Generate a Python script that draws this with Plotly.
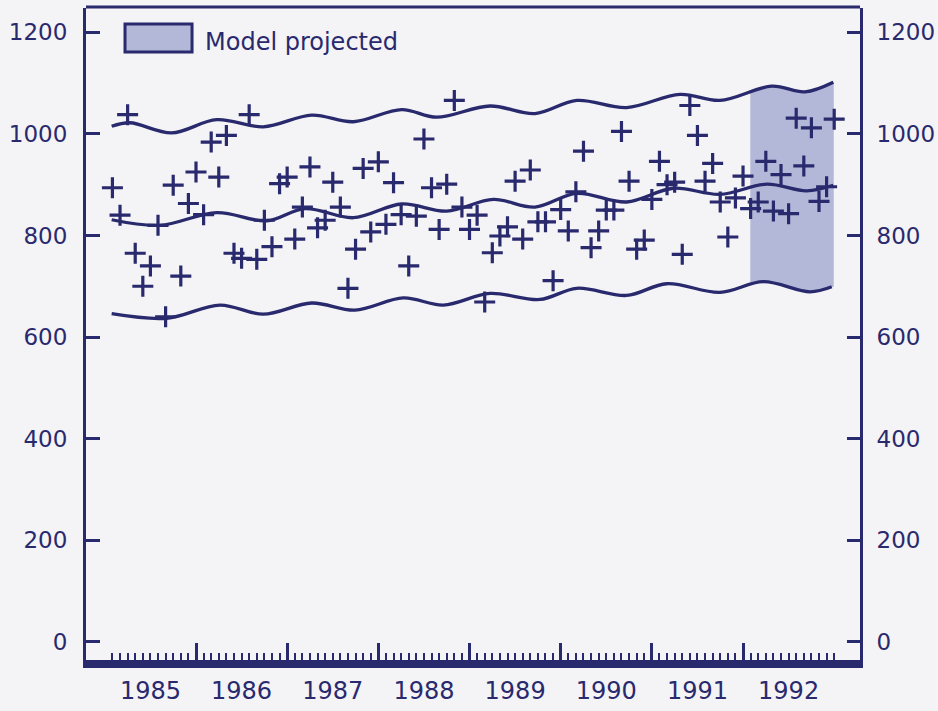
import plotly.graph_objects as go

NAVY = "#29296d"
BG = "#f4f3f6"
SHADE = "rgb(180,184,216)"
FONT = "DejaVu Sans, Verdana, sans-serif"

# ---- data ----
# monthly observations, Jan 1985 .. Dec 1992, plotted at month end
years = list(range(1985, 1993))
months = [f"{y}-{m:02d}" for y in years for m in range(1, 13)]
t_obs = [int(s[:4]) + int(s[5:]) / 12 for s in months]
observed = [
    894, 840, 1038, 765, 700, 740, 820, 640, 899, 720, 863, 925,
    841, 984, 915, 997, 765, 755, 1038, 753, 830, 778, 902, 915,
    793, 856, 935, 815, 830, 905, 856, 696, 773, 932, 807, 945,
    822, 904, 841, 740, 838, 990, 894, 812, 901, 1066, 856, 812,
    840, 669, 766, 799, 817, 907, 793, 929, 827, 827, 711, 851,
    809, 886, 966, 776, 809, 850, 850, 1005, 907, 773, 791, 871,
    946, 900, 905, 763, 1056, 997, 907, 942, 866, 797, 874, 917,
    853, 866, 946, 848, 920, 843, 1031, 937, 1012, 867, 896, 1029,
]

# model curves (knots read at peaks / troughs)
upper_t = [1985.075, 1985.276, 1985.733, 1986.227, 1986.738, 1987.269, 1987.725,
           1988.256, 1988.640, 1989.225, 1989.718, 1990.176, 1990.724, 1991.309,
           1991.747, 1992.315, 1992.680, 1992.990]
upper_v = [1015, 1022, 1002, 1028, 1014, 1037, 1024, 1048, 1033, 1055, 1040,
           1066, 1052, 1078, 1066, 1094, 1083, 1102]

middle_t = [1985.075, 1985.605, 1986.227, 1986.775, 1987.196, 1987.725, 1988.256,
            1988.750, 1989.261, 1989.718, 1990.176, 1990.724, 1991.235, 1991.747,
            1992.260, 1992.698, 1992.990]
middle_v = [831, 820, 845, 829, 853, 835, 862, 848, 871, 856, 883, 866, 893, 881,
            901, 888, 899]

lower_t = [1985.075, 1985.679, 1986.263, 1986.738, 1987.269, 1987.744, 1988.274,
           1988.713, 1989.225, 1989.773, 1990.176, 1990.724, 1991.163, 1991.747,
           1992.223, 1992.735, 1992.973]
lower_v = [646, 637, 663, 645, 667, 653, 677, 663, 686, 674, 696, 682, 705, 688,
           709, 689, 699]

# projected band
proj_t = [1992.08, 1992.31, 1992.68, 1992.995]
proj_hi = [1086, 1094, 1083, 1103]
proj_lo = [705, 709, 690, 699]

y_ticks = [0, 200, 400, 600, 800, 1000, 1200]
year_labels = [str(y) for y in years]
year_label_pos = [y + 0.5 for y in years]
year_bounds = [y for y in range(1986, 1993)]
month_ticks = [y + m / 12 for y in range(1985, 1993) for m in range(1, 12)] + [1993.0]

X_RANGE = [1984.7935, 1993.283]
Y_RANGE = [-36, 1248]

fig = go.Figure()

fig.add_trace(go.Scatter(x=proj_t, y=proj_lo, mode="lines",
                         line=dict(width=0, shape="spline", color=SHADE),
                         showlegend=False, hoverinfo="skip"))
fig.add_trace(go.Scatter(x=proj_t, y=proj_hi, mode="lines", fill="tonexty",
                         fillcolor=SHADE,
                         line=dict(width=0, shape="spline", color=SHADE),
                         showlegend=False, hoverinfo="skip"))

for tt, vv in ((upper_t, upper_v), (middle_t, middle_v), (lower_t, lower_v)):
    fig.add_trace(go.Scatter(x=tt, y=vv, mode="lines",
                             line=dict(color=NAVY, width=3.3, shape="spline"),
                             showlegend=False))

fig.add_trace(go.Scatter(x=t_obs, y=observed, mode="markers",
                         marker=dict(symbol="cross-thin", size=15,
                                     line=dict(color=NAVY, width=3.2)),
                         showlegend=False))

# invisible companion trace so the mirrored right axis / label axis are drawn
fig.add_trace(go.Scatter(x=t_obs, y=observed, xaxis="x2", yaxis="y2",
                         mode="markers", marker=dict(opacity=0),
                         showlegend=False, hoverinfo="skip"))

tickfont = dict(family=FONT, size=23, color=NAVY)

fig.update_layout(
    width=938, height=711,
    margin=dict(l=86, r=78, t=8, b=51, autoexpand=False),
    paper_bgcolor=BG, plot_bgcolor=BG,
    showlegend=False,
    xaxis=dict(range=X_RANGE, showgrid=False, zeroline=False, automargin=False,
               showline=True, linewidth=8, linecolor=NAVY,
               tickmode="array", tickvals=year_bounds, ticks="inside",
               ticklen=17, tickwidth=2.5, tickcolor=NAVY,
               showticklabels=False,
               minor=dict(tickmode="array", tickvals=month_ticks, ticks="inside",
                          ticklen=7, tickwidth=2, tickcolor=NAVY)),
    xaxis2=dict(range=X_RANGE, overlaying="x", side="bottom", anchor="y2",
                showgrid=False, zeroline=False, showline=False, automargin=False,
                tickmode="array", tickvals=year_label_pos, ticktext=year_labels,
                ticks="", tickfont=dict(family=FONT, size=24, color=NAVY),
                ticklabelstandoff=14),
    yaxis=dict(range=Y_RANGE, showgrid=False, zeroline=False, automargin=False,
               showline=True, linewidth=3, linecolor=NAVY,
               tickmode="array", tickvals=y_ticks, ticks="inside",
               ticklen=14, tickwidth=3, tickcolor=NAVY,
               tickfont=tickfont, ticklabelstandoff=11),
    yaxis2=dict(range=Y_RANGE, overlaying="y", side="right", anchor="x2",
                showgrid=False, zeroline=False, automargin=False,
                showline=True, linewidth=3, linecolor=NAVY,
                tickmode="array", tickvals=y_ticks, ticks="inside",
                ticklen=13, tickwidth=3, tickcolor=NAVY,
                tickfont=tickfont, ticklabelstandoff=9),
    shapes=[
        dict(type="line", xref="paper", yref="paper", x0=0, x1=1, y0=1.0015, y1=1.0015,
             line=dict(color=NAVY, width=3)),
        dict(type="rect", xref="paper", yref="paper", x0=0.0504, x1=0.137,
             y0=0.9325, y1=0.9755, fillcolor=SHADE,
             line=dict(color=NAVY, width=3)),
    ],
    annotations=[
        dict(text="Model projected", xref="paper", yref="paper", x=0.151, y=0.948,
             xanchor="left", yanchor="middle", showarrow=False,
             font=dict(family=FONT, size=24, color=NAVY)),
    ],
)

fig.write_html(
    "out.html",
    config={"displayModeBar": False},
    post_script="document.body.style.margin='0';document.body.style.background='%s';" % BG,
)
